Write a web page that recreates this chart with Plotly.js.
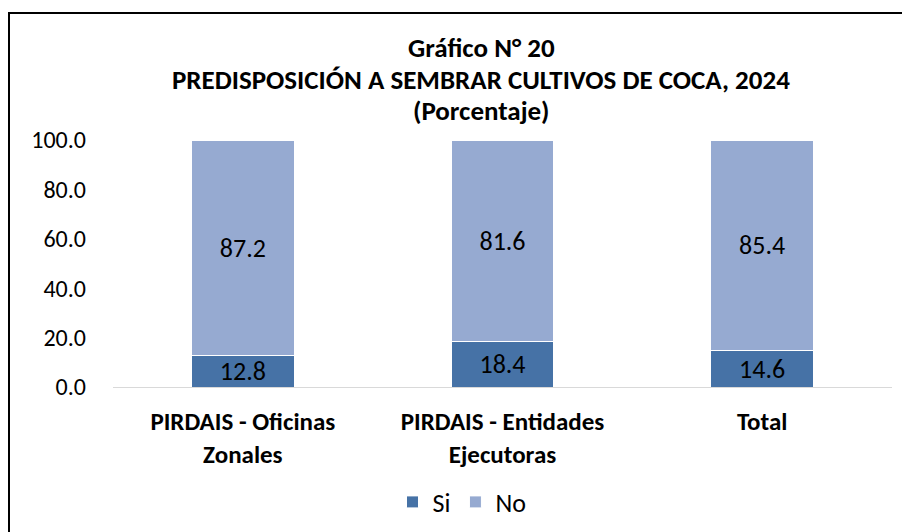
<!DOCTYPE html>
<html><head><meta charset="utf-8">
<script src="https://cdn.plot.ly/plotly-3.0.1.min.js"></script>
<style>body{margin:0;padding:0;background:#fff}#chart{width:902px;height:532px}</style>
</head><body><div id="chart"></div>
<script>
const categories = ["PIRDAIS - Oficinas<br>Zonales", "PIRDAIS - Entidades<br>Ejecutoras", "Total"];
const siValues = [12.8, 18.4, 14.6];
const noValues = [87.2, 81.6, 85.4];
const yTicks = [0, 20, 40, 60, 80, 100];
const yTickLabels = ["0.0", "20.0", "40.0", "60.0", "80.0", "100.0"];
const titleLines = ["Gráfico N° 20", "PREDISPOSICIÓN A SEMBRAR CULTIVOS DE COCA, 2024", "(Porcentaje)"];

const FONT = "Carlito, Calibri, Lato, 'Open Sans', sans-serif";
const L = 113, R = 10, T = 140, B = 145, W = 902, H = 532;
const pw = W - L - R, ph = H - T - B;
const px = x => (x - L) / pw;
const py = y => (H - B - y) / ph;

const traces = [
  {type: "bar", name: "Si", x: categories, y: siValues,
   marker: {color: "#4672A6", line: {color: "#ffffff", width: 1}},
   text: siValues.map(v => v.toFixed(1)), textposition: "inside", insidetextanchor: "middle", constraintext: "none",
   textfont: {family: FONT, size: 26, color: "#000"}, width: 0.396, hoverinfo: "none"},
  {type: "bar", name: "No", x: categories, y: noValues,
   marker: {color: "#96AAD1", line: {color: "#ffffff", width: 1}},
   text: noValues.map(v => v.toFixed(1)), textposition: "inside", insidetextanchor: "middle", constraintext: "none",
   textfont: {family: FONT, size: 26, color: "#000"}, width: 0.396, hoverinfo: "none"}
];

const titleY = [47, 79, 110];
const annotations = titleLines.map((t, i) => ({
  text: "<b>" + t + "</b>", xref: "paper", yref: "paper", x: px(481), y: py(titleY[i]),
  xanchor: "center", yanchor: "middle", showarrow: false,
  font: {family: FONT, size: 27, color: "#000"}
}));

const layout = {
  width: W, height: H, barmode: "stack",
  margin: {l: L, r: R, t: T, b: B, autoexpand: false},
  paper_bgcolor: "#fff", plot_bgcolor: "#fff",
  font: {family: FONT, color: "#000"},
  annotations: annotations,
  xaxis: {tickfont: {family: FONT, size: 25, color: "#000", weight: "bold"}, showline: true, linecolor: "#d9d9d9", linewidth: 1,
          ticks: "", showgrid: false, ticklabelstandoff: 12, automargin: false},
  yaxis: {range: [0, 100], tickvals: yTicks, ticktext: yTickLabels, showgrid: false, zeroline: false, showline: false,
          tickfont: {family: FONT, size: 24, color: "#000"}, ticklabelstandoff: 26, automargin: false},
  showlegend: true,
  legend: {orientation: "h", x: px(462), xanchor: "center", y: py(502), yanchor: "middle",
           font: {family: FONT, size: 26, color: "#000"}, traceorder: "normal", itemwidth: 30},
  shapes: [{type: "rect", xref: "paper", yref: "paper", x0: px(9), x1: px(960), y0: py(600), y1: py(13),
            line: {color: "#000", width: 2}, fillcolor: "rgba(0,0,0,0)", layer: "above"}]
};
Plotly.newPlot("chart", traces, layout, {displayModeBar: false, staticPlot: true});
</script></body></html>
